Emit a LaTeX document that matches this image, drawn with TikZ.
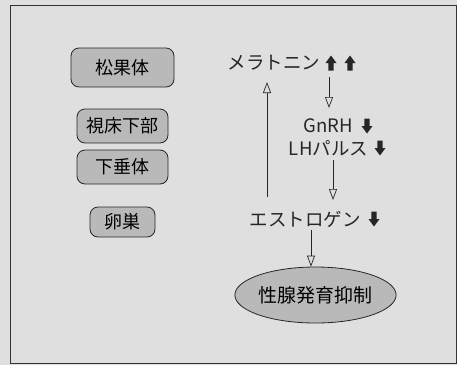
\documentclass[tikz,border=0pt]{standalone}
\usepackage{fontspec}
\setmainfont{Noto Sans CJK JP}
\usetikzlibrary{arrows.meta,shapes.geometric}
\begin{document}
\begin{tikzpicture}[x=1pt,y=-1pt,
  organ/.style={draw=black!85, line width=0.8pt, fill=gray!55, rounded corners=8pt, inner sep=0pt, font=\fontsize{18}{20}\selectfont},
  lbl/.style={inner sep=0pt, font=\fontsize{18.5}{21}\selectfont, text=black!85},
  flow/.style={draw=black!85, line width=0.7pt, -{Triangle[open, length=11pt, width=8pt]}},
  bigup/.pic={\fill[black!85] (-2.6,7.5) -- (-2.6,0) -- (-5.5,0) -- (0,-7.5) -- (5.5,0) -- (2.6,0) -- (2.6,7.5) -- cycle;},
  bigdown/.pic={\fill[black!85] (-2.6,-7.5) -- (-2.6,0) -- (-5.5,0) -- (0,7.5) -- (5.5,0) -- (2.6,0) -- (2.6,-7.5) -- cycle;}]
\useasboundingbox (0,0) rectangle (457,365);
\fill[gray!25] (0,0) rectangle (457,365);
\draw[black!80, line width=0.8pt] (10,5) -- (456,5) -- (456,363) -- (10,363) -- cycle;

\node[organ, minimum width=103pt, minimum height=39pt] (pineal) at (122.5,67.5) {松果体};
\node[organ, minimum width=91pt, minimum height=34pt] (hypo) at (122.5,126) {視床下部};
\node[organ, minimum width=91pt, minimum height=34pt] (pit) at (122.5,167) {下垂体};
\node[organ, minimum width=65pt, minimum height=30pt] (ovary) at (122.5,222) {卵巣};

\node[lbl] (mel) at (274,63) {メラトニン};
\pic at (331,63) {bigup};
\pic at (350,63) {bigup};
\node[lbl] (gnrh) at (328.5,126) {GnRH};
\pic at (367,126) {bigdown};
\node[lbl] (lh) at (328.5,148) {LHパルス};
\pic at (380,148) {bigdown};
\node[lbl] (est) at (305,219) {エストロゲン};
\pic at (374,219) {bigdown};
\node[draw=black!85, line width=0.8pt, fill=gray!55, ellipse, minimum width=159pt, minimum height=56pt, inner sep=0pt, font=\fontsize{19}{21}\selectfont] (supp) at (315.5,295) {性腺発育抑制};

\coordinate (m1) at (329,77);
\coordinate (m2) at (329,108);
\draw[flow] (m1) -- (m2);
\coordinate (l1) at (333,160);
\coordinate (l2) at (333,200);
\draw[flow] (l1) -- (l2);
\coordinate (e1) at (311,230);
\draw[flow] (e1) -- (supp.north -| e1);
\coordinate (u1) at (267,197);
\coordinate (u2) at (267,82);
\draw[flow] (u1) -- (u2);
\end{tikzpicture}
\end{document}
